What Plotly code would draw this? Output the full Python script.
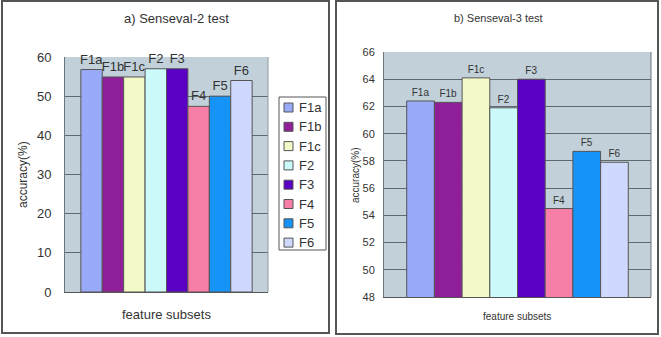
import plotly.graph_objects as go

categories = ["F1a", "F1b", "F1c", "F2", "F3", "F4", "F5", "F6"]
senseval2 = [56.8, 54.9, 54.9, 57.0, 57.0, 47.4, 50.0, 54.0]
senseval3 = [62.4, 62.3, 64.1, 61.9, 64.0, 54.5, 58.7, 57.9]
colors = ["#99aaf8", "#8f1f99", "#f3fac8", "#ccfafa", "#5a00c2", "#f77ea7", "#1693f6", "#cfd8fd"]

W, H = 661, 337
def px(x):
    return x / W
def py(y):
    return 1 - y / H

fig = go.Figure()
for i, (c, v2, v3, col) in enumerate(zip(categories, senseval2, senseval3, colors)):
    fig.add_trace(go.Bar(
        x=[i], y=[v2], width=1, name=c, marker=dict(color=col, line=dict(color="#555555", width=1)),
        text=[c], textposition="outside", constraintext="none", cliponaxis=False,
        textfont=dict(family="Liberation Sans", size=13, color="#333333"),
        xaxis="x", yaxis="y", showlegend=False))
    fig.add_trace(go.Bar(
        x=[i], y=[v3], width=1, name=c, marker=dict(color=col, line=dict(color="#555555", width=1)),
        text=[c], textposition="outside", constraintext="none", cliponaxis=False,
        textfont=dict(family="Liberation Sans", size=10, color="#333333"),
        xaxis="x2", yaxis="y2", showlegend=False))

shapes = [
    dict(type="rect", xref="paper", yref="paper", x0=px(2), x1=px(329), y0=py(333), y1=py(1),
         line=dict(color="#555555", width=2)),
    dict(type="rect", xref="paper", yref="paper", x0=px(336), x1=px(658), y0=py(334), y1=py(1),
         line=dict(color="#555555", width=2)),
    dict(type="line", xref="x2 domain", yref="y2 domain", x0=1, x1=1, y0=0, y1=1,
         line=dict(color="#6a767c", width=1)),
    dict(type="line", xref="x domain", yref="y domain", x0=1, x1=1, y0=0, y1=1,
         line=dict(color="#8a989e", width=1)),
    # legend box
    dict(type="rect", xref="paper", yref="paper", x0=px(279), x1=px(326), y0=py(250), y1=py(97),
         line=dict(color="#555555", width=1), fillcolor="white"),
]
annotations = [
    dict(text="a) Senseval-2 test", xref="paper", yref="paper", x=px(176), y=py(19),
         showarrow=False, font=dict(size=13, color="#333333"), xanchor="center", yanchor="middle"),
    dict(text="b) Senseval-3 test", xref="paper", yref="paper", x=px(498), y=py(18),
         showarrow=False, font=dict(size=11, color="#333333"), xanchor="center", yanchor="middle"),
    dict(text="feature subsets", xref="paper", yref="paper", x=px(166), y=py(314),
         showarrow=False, font=dict(size=13, color="#333333"), xanchor="center", yanchor="middle"),
    dict(text="feature subsets", xref="paper", yref="paper", x=px(517), y=py(316),
         showarrow=False, font=dict(size=10, color="#333333"), xanchor="center", yanchor="middle"),
    dict(text="accuracy(%)", xref="paper", yref="paper", x=px(23), y=py(175), textangle=-90,
         showarrow=False, font=dict(size=12, color="#333333"), xanchor="center", yanchor="middle"),
    dict(text="accuracy(%)", xref="paper", yref="paper", x=px(355), y=py(175), textangle=-90,
         showarrow=False, font=dict(size=10, color="#333333"), xanchor="center", yanchor="middle"),
]
# legend entries (drawn from the category / colour lists)
for i, (c, col) in enumerate(zip(categories, colors)):
    yc = 107.5 + 19.3 * i
    shapes.append(dict(type="rect", xref="paper", yref="paper", x0=px(284), x1=px(293),
                       y0=py(yc + 4.5), y1=py(yc - 4.5), fillcolor=col,
                       line=dict(color="#555555", width=1)))
    annotations.append(dict(text=c, xref="paper", yref="paper", x=px(297), y=py(yc),
                            showarrow=False, font=dict(size=13, color="#333333"),
                            xanchor="left", yanchor="middle"))

grid = "#5f6a70"
fig.update_layout(
    width=W, height=H, margin=dict(l=0, r=0, t=0, b=0, pad=0, autoexpand=False),
    paper_bgcolor="white", plot_bgcolor="#c2d1d9",
    barmode="overlay", showlegend=False,
    font=dict(family="Liberation Sans", color="#333333"),
    xaxis=dict(domain=[px(65), px(268)], range=[-1.24, 8.24], showticklabels=False, showgrid=False,
               zeroline=False, showline=True, linecolor="#555555", linewidth=1, fixedrange=True),
    yaxis=dict(domain=[py(292), py(57)], range=[0, 60], dtick=10, showgrid=True, gridcolor=grid,
               zeroline=False, showline=True, linecolor="#6a767c", linewidth=1, automargin=False,
               tickfont=dict(size=13, color="#333333"), ticks="", ticklabelstandoff=10),
    xaxis2=dict(domain=[px(384), px(651)], range=[-1.32, 8.32], showticklabels=False, showgrid=False,
                zeroline=False, showline=True, linecolor="#555555", linewidth=1, anchor="y2"),
    yaxis2=dict(domain=[py(297), py(52)], range=[48, 66], dtick=2, showgrid=True, gridcolor=grid,
                zeroline=False, showline=True, linecolor="#6a767c", linewidth=1, anchor="x2",
                automargin=False,
                tickfont=dict(size=11, color="#333333"), ticks="", ticklabelstandoff=6),
    shapes=shapes,
    annotations=annotations,
)

fig.write_html("out.html")
